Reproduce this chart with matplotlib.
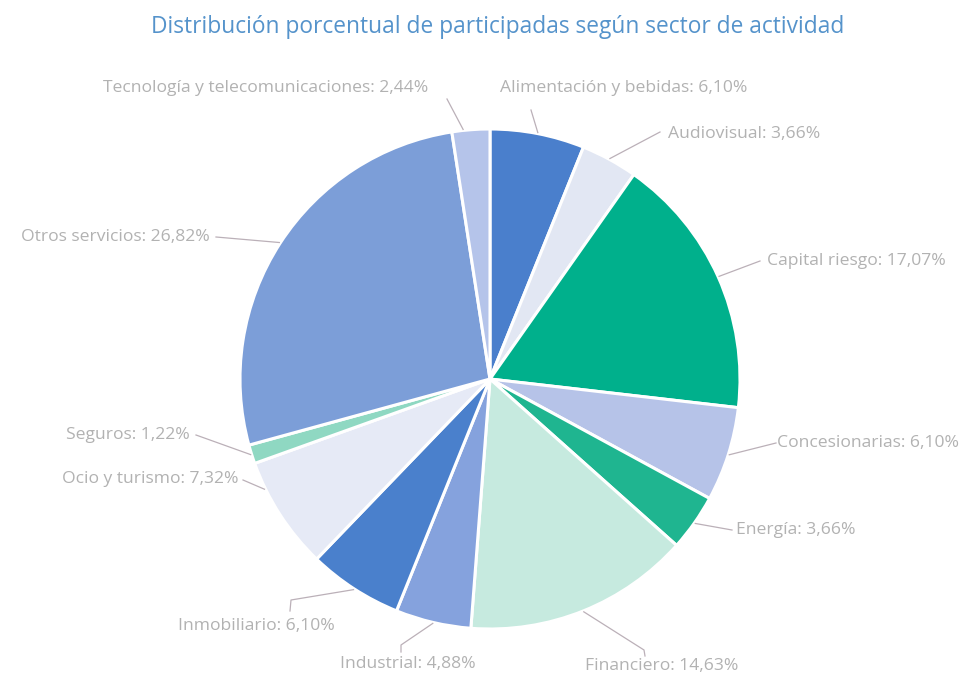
import numpy as np
import matplotlib
matplotlib.use("Agg")
import matplotlib.pyplot as plt

sectors = [
    "Alimentación y bebidas", "Audiovisual", "Capital riesgo", "Concesionarias",
    "Energía", "Financiero", "Industrial", "Inmobiliario", "Ocio y turismo",
    "Seguros", "Otros servicios", "Tecnología y telecomunicaciones",
]
shares = [6.10, 3.66, 17.07, 6.10, 3.66, 14.63, 4.88, 6.10, 7.32, 1.22, 26.82, 2.44]
colors = [
    "#4a7fcc", "#e2e7f3", "#00b08c", "#b6c3e8", "#1fb590", "#c6eadf",
    "#85a2dd", "#4a80cc", "#e6eaf6", "#8fd8c2", "#7c9ed8", "#b5c4ea",
]

# layout (pixel coords, y down): attach fraction within wedge, connector points, text x, y, align
label_layout = [
    (0.5, [(531, 110)], 500, 88, "left"),
    (0.5, [(660, 132)], 668, 134, "left"),
    (0.5, [(760, 261)], 767, 261, "left"),
    (0.5, [(776, 443)], 777, 443, "left"),
    (0.5, [(732, 530)], 736, 530, "left"),
    (0.5, [(644, 650), (645, 656)], 585, 666, "left"),
    (0.5, [(401, 645), (401, 652)], 340, 664, "left"),
    (0.5, [(291, 600), (290, 611)], 178, 626, "left"),
    (0.76, [(243, 480)], 238, 479, "right"),
    (0.5, [(196, 435)], 190, 435, "right"),
    (0.5, [(216, 237)], 210, 237, "right"),
    (0.3, [(447, 99)], 428, 88, "right"),
]

W, H = 968, 677
CX, CY, R = 490, 379, 250
_TEXT = "#b2b2b2"
_LINE = "#bbb0b8"

fig = plt.figure(figsize=(W / 100, H / 100), dpi=100, facecolor="white")
ax = fig.add_axes([0, 0, 1, 1])

ax.pie(shares, colors=colors, startangle=-90, counterclock=True,
       center=(CX, CY), radius=R,
       wedgeprops=dict(edgecolor="white", linewidth=2.2))
ax.set_xlim(0, W)
ax.set_ylim(H, 0)
ax.set_aspect("equal")
ax.axis("off")

cum = np.cumsum([0] + shares[:-1])
for name, val, start, (frac, pts, tx, ty, ha) in zip(sectors, shares, cum, label_layout):
    theta = np.deg2rad(-90 + 360 * (start + val * frac) / 100)
    px, py = CX + (R + 1) * np.cos(theta), CY + (R + 1) * np.sin(theta)
    xs = [px] + [p[0] for p in pts]
    ys = [py] + [p[1] for p in pts]
    ax.plot(xs, ys, color=_LINE, lw=0.9)
    txt = f"{name}: {val:.2f}%".replace(".", ",")
    ax.text(tx, ty, txt, ha=ha, va="center", fontsize=12.6, color=_TEXT,
            family="Open Sans")

ax.text(498, 27, "Distribución porcentual de participadas según sector de actividad",
        ha="center", va="center", fontsize=16.4, color="#5593cb", family="Open Sans")

fig.savefig("out.png", dpi=100, facecolor="white")
